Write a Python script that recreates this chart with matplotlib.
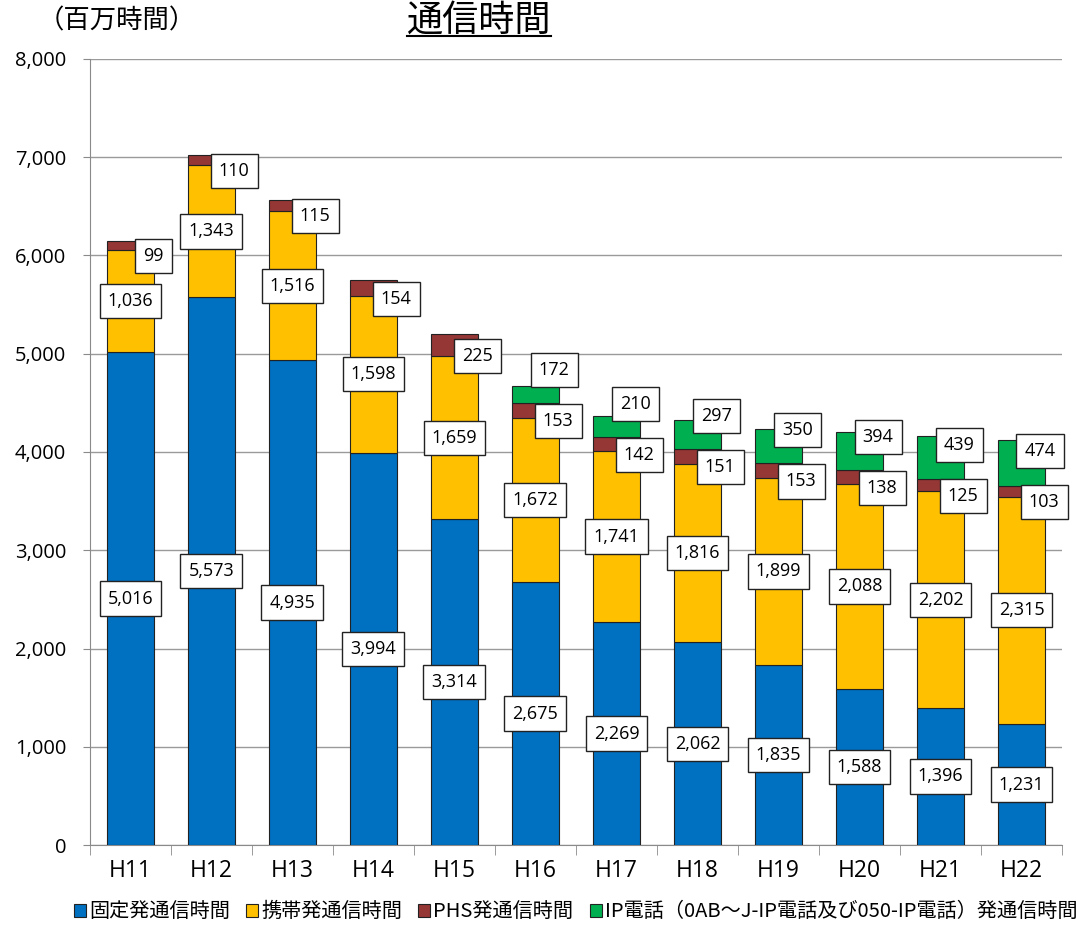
import numpy as np
import matplotlib
matplotlib.use("Agg")
import matplotlib.pyplot as plt
from matplotlib.patches import Patch
from matplotlib.ticker import FuncFormatter

plt.rcParams['font.family'] = ['Noto Sans CJK JP', 'DejaVu Sans']

# data (百万時間)
years = ['H11', 'H12', 'H13', 'H14', 'H15', 'H16', 'H17', 'H18', 'H19', 'H20', 'H21', 'H22']
fixed = [5016, 5573, 4935, 3994, 3314, 2675, 2269, 2062, 1835, 1588, 1396, 1231]
mobile = [1036, 1343, 1516, 1598, 1659, 1672, 1741, 1816, 1899, 2088, 2202, 2315]
phs = [99, 110, 115, 154, 225, 153, 142, 151, 153, 138, 125, 103]
ip = [0, 0, 0, 0, 0, 172, 210, 297, 350, 394, 439, 474]
series_names = ['固定発通信時間', '携帯発通信時間', 'PHS発通信時間',
                'IP電話（0AB～J-IP電話及び050-IP電話）発通信時間']
colors = ['#0070C0', '#FFC000', '#953735', '#00B050']

fig = plt.figure(figsize=(10.76, 9.33), dpi=100)
ax = fig.add_axes([0.0836, 0.0943, 0.9034, 0.8425])

x = np.arange(len(years))
w = 0.57
fixed = np.array(fixed)
mobile = np.array(mobile)
phs = np.array(phs)
ip = np.array(ip)

b1 = fixed
b2 = fixed + mobile
b3 = b2 + phs
ax.bar(x, fixed, w, color=colors[0], edgecolor='#222222', linewidth=0.8, zorder=3)
ax.bar(x, mobile, w, bottom=b1, color=colors[1], edgecolor='#222222', linewidth=0.8, zorder=3)
ax.bar(x, phs, w, bottom=b2, color=colors[2], edgecolor='#222222', linewidth=0.8, zorder=3)
ipx = x[ip > 0]
ax.bar(ipx, ip[ip > 0], w, bottom=b3[ip > 0], color=colors[3], edgecolor='#222222',
       linewidth=0.8, zorder=3)

box = dict(boxstyle='square,pad=0.45', facecolor='white', edgecolor='#222222', linewidth=1)
lab = dict(ha='center', va='center', fontsize=13, bbox=box, zorder=5,
           family=['Open Sans', 'DejaVu Sans'])
for i in range(len(years)):
    ax.text(x[i], fixed[i] / 2, f'{fixed[i]:,}', **lab)
    ax.text(x[i], b1[i] + mobile[i] / 2, f'{mobile[i]:,}', **lab)
    py = b2[i] + phs[i] / 2 - 110
    ax.text(x[i] + 0.28, py, f'{phs[i]:,}', **lab)
    if ip[i] > 0:
        ax.text(x[i] + 0.23, py + 520, f'{ip[i]:,}', **lab)

ax.set_xlim(-0.5, len(years) - 0.5)
ax.set_ylim(0, 8000)
ax.set_yticks(np.arange(0, 8001, 1000))
ax.yaxis.set_major_formatter(FuncFormatter(lambda v, p: f'{int(v):,}'))
ax.grid(axis='y', color='#9a9a9a', linewidth=1, zorder=0)
ax.set_xticks(x)
ax.set_xticklabels(years, fontsize=16.5, family=['Open Sans', 'DejaVu Sans'])
ax.set_xticks(np.arange(-0.5, len(years), 1), minor=True)
ax.tick_params(axis='x', which='major', length=0, pad=10)
ax.tick_params(axis='x', which='minor', length=7, color='#8a8a8a')
ax.tick_params(axis='y', length=5, color='#8a8a8a', labelsize=14.5, pad=12)
for t in ax.get_yticklabels():
    t.set_family(['Open Sans', 'DejaVu Sans'])
for s in ['top', 'right']:
    ax.spines[s].set_visible(False)
for s in ['left', 'bottom']:
    ax.spines[s].set_color('#8a8a8a')

fig.text(0.035, 0.978, '（百万時間）', fontsize=19, ha='left', va='center')
title = fig.text(0.445, 0.978, '通信時間', fontsize=26, ha='center', va='center')
fig.canvas.draw()
bb = title.get_window_extent().transformed(fig.transFigure.inverted())
fig.add_artist(plt.Line2D([bb.x0, bb.x1], [bb.y0 + 0.003, bb.y0 + 0.003],
                          transform=fig.transFigure, color='black', linewidth=1.5))

handles = [Patch(facecolor=c, edgecolor='#222222', linewidth=0.8) for c in colors]
fig.legend(handles, series_names, loc='lower center', bbox_to_anchor=(0.535, -0.008),
           ncol=4, frameon=False, fontsize=14.5, handlelength=0.6, handleheight=0.6,
           handletextpad=0.15, columnspacing=0.8)

fig.savefig('out.png', dpi=100)
